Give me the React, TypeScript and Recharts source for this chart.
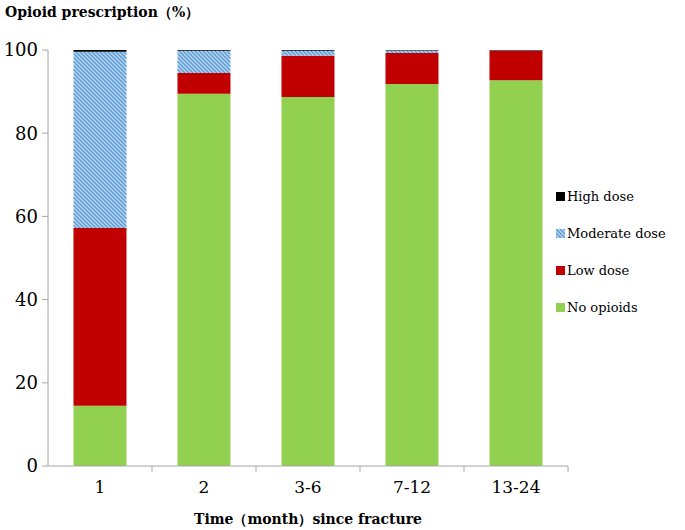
import React from "react";
import { BarChart, Bar, XAxis, YAxis, Legend } from "recharts";

const months = ["1", "2", "3-6", "7-12", "13-24"];
const noOpioids = [14.5, 89.5, 88.7, 91.8, 92.7];
const lowDose = [42.7, 5.0, 9.9, 7.5, 7.1];
const moderateDose = [42.4, 5.3, 1.2, 0.6, 0.1];
const highDose = [0.4, 0.2, 0.2, 0.1, 0.1];
const yTicks = [0, 20, 40, 60, 80, 100];
const legendOrder = ["High dose", "Moderate dose", "Low dose", "No opioids"];

const data = months.map((m, i) => ({
  month: m,
  none: noOpioids[i],
  low: lowDose[i],
  moderate: moderateDose[i],
  high: highDose[i],
}));

const W = 685;
const H = 530;
const margin = { top: 50, right: 117, left: 0, bottom: 0 };
const Y_W = 48;
const AXIS = "#A6A6A6";
const FONT = "'DejaVu Serif', serif";
const band = (W - margin.left - margin.right - Y_W) / months.length;

const XTick = (props: any) => {
  const { x, y, payload } = props;
  return (
    <g>
      <line x1={x + band / 2} y1={y} x2={x + band / 2} y2={y + 6} stroke={AXIS} />
      <text x={x} y={y + 27} textAnchor="middle" fill="#000" fontSize={17} fontFamily={FONT}>
        {payload.value}
      </text>
    </g>
  );
};

const LegendBox = (props: any) => {
  const items = [...(props.payload || [])].sort(
    (a: any, b: any) => legendOrder.indexOf(a.value) - legendOrder.indexOf(b.value)
  );
  return (
    <div style={{ fontFamily: FONT, fontSize: 13, color: "#000" }}>
      {items.map((it: any) => (
        <div key={it.value} style={{ display: "flex", alignItems: "center", height: 37 }}>
          <svg width={9} height={9} style={{ marginRight: 2 }}>
            <rect width={9} height={9} fill={it.color} />
          </svg>
          <span>{it.value}</span>
        </div>
      ))}
    </div>
  );
};

export default function App() {
  return (
    <div style={{ position: "absolute", left: 0, top: 0, width: W, height: H, background: "#fff" }}>
      <div
        style={{
          position: "absolute",
          left: 5,
          top: 4,
          fontFamily: FONT,
          fontWeight: "bold",
          fontSize: 14,
        }}
      >
        Opioid prescription（%）
      </div>
      <BarChart width={W} height={H} data={data} margin={margin} barCategoryGap="24.5%" style={{ fontFamily: FONT }}>
        <defs>
          <pattern id="hatch" patternUnits="userSpaceOnUse" width={4} height={4}>
            <rect width={4} height={4} fill="#B4D3EF" />
            <path d="M-1,3 l2,2 M0,0 l4,4 M3,-1 l2,2" stroke="#5B9BD5" strokeWidth={1.3} />
          </pattern>
        </defs>
        <XAxis
          dataKey="month"
          height={64}
          stroke={AXIS}
          tickLine={false}
          tickSize={0}
          tickMargin={0}
          tick={<XTick />}
          interval={0}
          label={{
            value: "Time（month）since fracture",
            position: "insideBottom",
            offset: 6,
            fill: "#000",
            fontSize: 14,
            fontWeight: "bold",
            fontFamily: FONT,
          }}
        />
        <YAxis
          width={Y_W}
          domain={[0, 100]}
          ticks={yTicks}
          stroke={AXIS}
          tickSize={6}
          tickMargin={4}
          tick={{ fill: "#000", fontSize: 18, fontFamily: FONT }}
        />
        <Legend
          verticalAlign="middle"
          align="center"
          layout="horizontal"
          content={<LegendBox />}
          wrapperStyle={{ left: 556, top: 178, width: 130 }}
        />
        <Bar dataKey="none" name="No opioids" stackId="a" fill="#92D050" isAnimationActive={false} />
        <Bar dataKey="low" name="Low dose" stackId="a" fill="#C00000" isAnimationActive={false} />
        <Bar dataKey="moderate" name="Moderate dose" stackId="a" fill="url(#hatch)" isAnimationActive={false} />
        <Bar dataKey="high" name="High dose" stackId="a" fill="#000000" isAnimationActive={false} />
      </BarChart>
    </div>
  );
}
